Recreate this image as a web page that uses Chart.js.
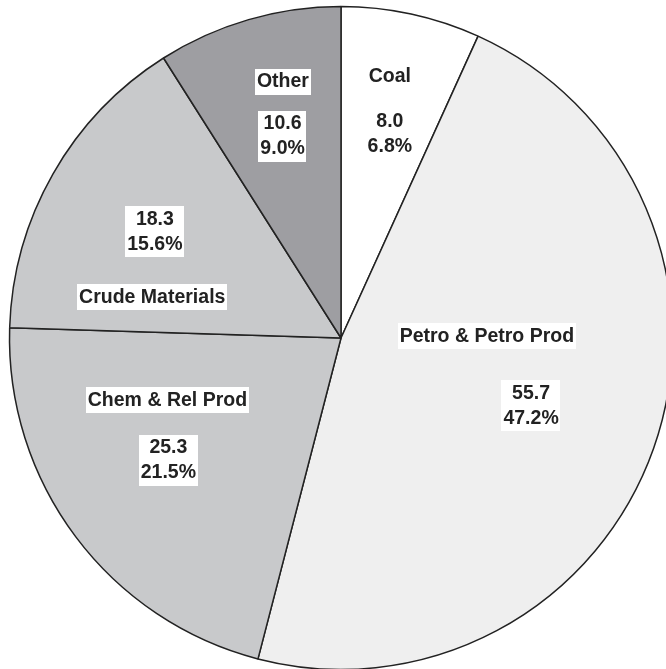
<!DOCTYPE html>
<html>
<head>
<meta charset="utf-8">
<script src="https://cdn.jsdelivr.net/npm/chart.js@4"></script>
<style>
html,body{margin:0;padding:0;background:#fff;overflow:hidden;}
#wrap{width:666px;height:669px;overflow:hidden;position:relative;}
#box{width:682px;height:676px;position:absolute;left:0;top:0;}
</style>
</head>
<body>
<div id="wrap"><div id="box"><canvas id="c"></canvas></div></div>
<script>
// Data
const categories = ["Coal", "Petro & Petro Prod", "Chem & Rel Prod", "Crude Materials", "Other"];
const values = [8.0, 55.7, 25.3, 18.3, 10.6];
const percents = ["6.8%", "47.2%", "21.5%", "15.6%", "9.0%"];
const sliceColors = ["#ffffff", "#efefef", "#c8c9cb", "#c8c9cb", "#9e9ea2"];

// Label layout (offsets relative to pie centre, in units of radius)
const nameOffsets = [[0.148, -0.794], [0.442, -0.005], [-0.526, 0.189], [-0.572, -0.123], [-0.176, -0.777]];
const valueOffsets = [[0.148, -0.620], [0.576, 0.205], [-0.523, 0.370], [-0.564, -0.323], [-0.177, -0.612]];

const labelPlugin = {
  id: 'sliceLabels',
  afterDatasetsDraw(chart) {
    const ctx = chart.ctx;
    const meta = chart.getDatasetMeta(0);
    const font = 'bold 19.5px "Liberation Sans", Arial, sans-serif';
    const lineH = 25;
    const drawBlock = (lines, cx, cy) => {
      ctx.save();
      ctx.font = font;
      let w = 0;
      lines.forEach(l => { w = Math.max(w, ctx.measureText(l).width); });
      const h = lines.length * lineH + 1;
      ctx.fillStyle = '#ffffff';
      ctx.fillRect(Math.round(cx - w / 2 - 2), Math.round(cy - h / 2), Math.round(w + 4), h);
      ctx.fillStyle = '#222222';
      ctx.textAlign = 'center';
      ctx.textBaseline = 'middle';
      lines.forEach((l, i) => {
        ctx.fillText(l, cx, cy - h / 2 + lineH * (i + 0.5) + 1);
      });
      ctx.restore();
    };
    meta.data.forEach((arc, i) => {
      const r = 330;
      const n = nameOffsets[i], v = valueOffsets[i];
      drawBlock([categories[i]], arc.x + n[0] * r, arc.y + n[1] * r);
      drawBlock([values[i].toFixed(1), percents[i]], arc.x + v[0] * r, arc.y + v[1] * r);
    });
  }
};

new Chart(document.getElementById('c'), {
  type: 'pie',
  data: {
    labels: categories,
    datasets: [{
      data: values,
      backgroundColor: sliceColors,
      borderColor: '#222222',
      borderWidth: 1.5,
      hoverOffset: 0,
      radius: 331.5
    }]
  },
  options: {
    responsive: true,
    maintainAspectRatio: false,
    animation: false,
    events: [],
    layout: { padding: 0 },
    plugins: {
      legend: { display: false },
      tooltip: { enabled: false },
      title: { display: false }
    }
  },
  plugins: [labelPlugin]
});
</script>
</body>
</html>
